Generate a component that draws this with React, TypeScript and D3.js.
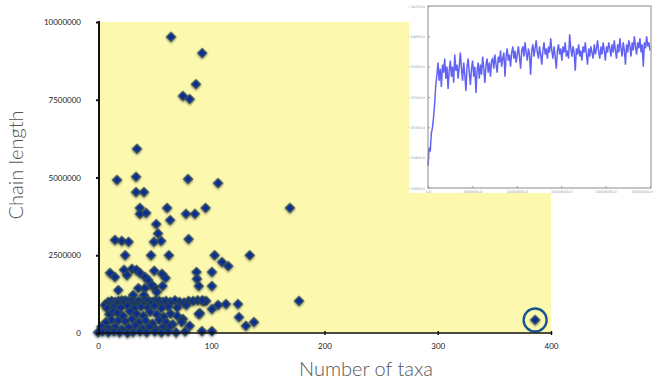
import React, { useEffect, useRef } from 'react';
import * as d3 from 'd3';

// number of taxa vs. chain length (chain length in millions)
const taxa = [
  64.5, 92, 86.5, 75, 81, 34.4, 16.8, 33.6, 79.5, 106, 33.6, 40.6, 37, 37, 42.5, 61, 63.7, 51.4, 53, 49.4,
  55.7, 15, 21, 27, 24, 46.8, 62.6, 80, 77.7, 85.6, 95, 103, 169.5, 134, 109.5, 115, 177.5, 386,
  10.6, 15, 23, 25.6, 30, 34, 37, 41.6, 44.4, 49.7, 56.5, 59.7, 17.9, 35.6, 41.3, 49.4, 57, 52, 47.4, 31, 40.6,
  87, 87.4, 89, 100.6, 100.6,
  106, 113, 123.6, 124.5, 130.6, 137.7, 100.6, 100.6, 91.8, 90, 93, 95.5, 89, 81, 75, 74,
  6, 9, 12, 15, 18, 21, 24, 27, 30, 33, 36, 39, 42, 45, 48, 51, 54, 57, 60, 64, 68, 72, 76, 80, 84, 88, 92,
  8, 14, 20, 26, 32, 38, 44, 50, 56, 62, 70, 78,
  10, 13, 17, 22, 28, 34, 40, 46, 52, 58, 64, 70,
  7, 12, 18, 24, 30, 36, 42, 48, 54, 60, 66,
  3, 9, 15, 21, 27, 33, 39, 45, 51, 57, 63,
  0, 4, 9, 14, 19, 26, 31, 37, 43, 50, 56, 62, 69, 77,
];
const chainLength = [
  9.52, 9.0, 8.0, 7.62, 7.52, 5.92, 4.92, 5.02, 4.95, 4.82, 4.53, 4.53, 4.02, 3.83, 3.86, 4.02, 3.63, 3.5, 3.2, 2.93,
  2.96, 2.99, 2.96, 2.93, 2.5, 2.5, 2.5, 3.02, 3.83, 3.83, 4.02, 2.5, 4.02, 2.5, 2.28, 2.15, 1.03, 0.42,
  1.93, 1.8, 2.03, 1.86, 2.06, 2.03, 1.93, 1.8, 1.7, 2.0, 1.9, 1.77, 1.38, 1.44, 1.44, 1.48, 1.51, 1.32, 1.54, 1.22, 1.22,
  1.96, 1.74, 1.51, 1.96, 1.51,
  0.9, 0.93, 0.93, 0.51, 0.23, 0.35, 0.77, 0.06, 0.06, 0.64, 1.03, 1.03, 0.61, 0.23, 0.45, 0.35,
  0.9, 1.0, 1.03, 1.0, 1.03, 1.05, 1.05, 1.03, 1.05, 1.0, 1.03, 1.0, 1.05, 1.03, 1.0, 1.05, 1.03, 1.0, 1.03, 1.0, 1.05, 1.0, 0.98, 1.03, 1.03, 1.05, 1.05,
  0.8, 0.85, 0.82, 0.88, 0.8, 0.85, 0.82, 0.88, 0.8, 0.85, 0.82, 0.9,
  0.6, 0.7, 0.65, 0.55, 0.7, 0.62, 0.55, 0.68, 0.6, 0.52, 0.62, 0.55,
  0.35, 0.42, 0.4, 0.38, 0.45, 0.35, 0.4, 0.3, 0.42, 0.35, 0.28,
  0.2, 0.15, 0.2, 0.12, 0.18, 0.25, 0.15, 0.2, 0.12, 0.18, 0.22,
  0.02, 0.05, 0.02, 0.05, 0.02, 0.0, 0.03, 0.05, 0.02, 0.05, 0.02, 0.05, 0.02, 0.05,
];
const highlighted = 37; // index of the circled point

const xTicks = [0, 100, 200, 300, 400];
const yTicks = [0, 2500000, 5000000, 7500000, 10000000];

// inset: MCMC trace (log likelihood per sample)
const trace = [
  -25490, -25400, -25420, -25330, -25300, -25250, -25180, -25090,
  -25040, -24980, -25070, -25010, -25100, -24990, -25030, -24960, -25060, -25000,
  -25110, -25020, -24970, -25050, -25000, -25080, -24940, -25020, -24990, -25060,
  -25000, -24930, -25010, -25070, -24980, -25040, -25120, -25000, -24960, -25030,
  -25090, -25010, -24970, -25050, -25000, -25130, -25020, -24980, -25060, -24990,
  -25040, -24950, -25010, -25080, -24990, -24960, -25030, -24980, -25050, -24970,
  -24960, -25010, -24940, -24990, -25030, -24950, -24980, -24920, -25000, -24960,
  -24930, -25050, -24950, -24910, -24970, -24940, -25000, -24930, -24900, -24960,
  -24920, -24980, -24940, -24900, -24950, -25010, -24920,
  -24900, -24950, -24880, -24930, -24970, -24910, -24940, -25040, -24920, -24890,
  -24950, -24910, -24870, -24930, -24960, -24900, -24940, -24990, -24920, -24880,
  -24940, -24910, -24960, -24900, -24930, -24860, -24920, -24960, -24900, -24950,
  -25010, -24920, -24890, -24940, -24910, -24970, -24900, -24930, -24880, -24950,
  -24920, -24960, -24840, -24910, -24950, -24900, -24930, -25020, -24910, -24940,
  -24890, -24950, -24920, -24970, -24900, -24930, -24880, -24940, -24990, -24910,
  -24950, -24900, -24930, -24960, -24890, -24940, -24910, -24870, -24930, -24960,
  -24900, -24940, -24880, -24920, -24970, -24900, -24930, -24880, -24910, -24950,
  -24890, -24930, -24870, -24920, -24960, -24890, -24930, -24860, -24910, -24950,
  -24880, -24920, -24990, -24890, -24930, -24870, -24900, -24950, -24880, -24920,
  -24850, -24900, -24940, -24880, -24910, -24860, -24930, -24890, -25000, -24880,
  -24910, -24850, -24900, -24880, -24920,
];
const traceXTicks = [0, 5000000, 10000000, 15000000, 20000000, 25000000];
const traceYTicks = [-25600, -25450, -25300, -25150, -25000, -24850, -24700];

export default function App() {
  const svgRef = useRef(null);

  useEffect(() => {
    const svg = d3.select(svgRef.current);
    svg.selectAll('*').remove();

    const x = d3.scaleLinear().domain([0, 400]).range([98, 551]);
    const y = d3.scaleLinear().domain([0, 10000000]).range([333, 22]);

    const defs = svg.append('defs');
    const f = defs.append('filter').attr('id', 'glow')
      .attr('x', '-50%').attr('y', '-50%').attr('width', '200%').attr('height', '200%');
    f.append('feGaussianBlur').attr('in', 'SourceAlpha').attr('stdDeviation', 1.5).attr('result', 'b');
    f.append('feOffset').attr('in', 'b').attr('dx', 0.5).attr('dy', 1).attr('result', 'o');
    f.append('feComponentTransfer').attr('in', 'o').attr('result', 's')
      .append('feFuncA').attr('type', 'linear').attr('slope', 0.4);
    const m = f.append('feMerge');
    m.append('feMergeNode').attr('in', 's');
    m.append('feMergeNode').attr('in', 'SourceGraphic');

    const soft = defs.append('filter').attr('id', 'soft');
    soft.append('feGaussianBlur').attr('stdDeviation', 0.45);

    // plot background
    svg.append('rect')
      .attr('x', 100).attr('y', 22)
      .attr('width', x(400) - 100).attr('height', y(0) - 22)
      .attr('fill', '#fcf8ae');

    // points
    const diamond = d3.symbol().type(d3.symbolSquare).size(36);
    svg.append('g')
      .selectAll('path')
      .data(taxa.map((t, i) => ({ t, c: chainLength[i] * 1000000 })))
      .join('path')
      .attr('d', diamond)
      .attr('transform', (d) => `translate(${x(d.t)},${y(d.c)}) rotate(45)`)
      .attr('fill', '#0b2c9a')
      .attr('stroke', '#26465a')
      .attr('stroke-width', 1.5)
      .attr('filter', 'url(#glow)');

    // circled outlier
    svg.append('circle')
      .attr('cx', x(taxa[highlighted]))
      .attr('cy', y(chainLength[highlighted] * 1000000))
      .attr('r', 11.5)
      .attr('fill', 'none')
      .attr('stroke', '#15578f')
      .attr('stroke-width', 2.4);

    // y axis
    const yAxis = svg.append('g')
      .attr('transform', 'translate(99,0)')
      .call(d3.axisLeft(y).tickValues(yTicks).tickSize(3).tickPadding(15).tickFormat(d3.format('d')));
    yAxis.select('.domain').remove();
    yAxis.selectAll('line').attr('stroke', '#111').attr('stroke-width', 2);
    yAxis.selectAll('text').attr('fill', '#222').style('font-size', '8px').style('font-family', 'Lato, sans-serif');
    svg.append('line')
      .attr('x1', 99).attr('x2', 99).attr('y1', 21).attr('y2', 334)
      .attr('stroke', '#111').attr('stroke-width', 2);

    // x axis
    const xAxis = svg.append('g')
      .attr('transform', 'translate(0,333)')
      .call(d3.axisBottom(x).tickValues(xTicks).tickSize(2).tickPadding(8));
    xAxis.select('.domain').remove();
    xAxis.selectAll('line').attr('y1', -2).attr('stroke', '#111').attr('stroke-width', 1.5);
    xAxis.selectAll('text').attr('fill', '#222').style('font-size', '8px').style('font-family', 'Lato, sans-serif');
    svg.append('line')
      .attr('x1', 98).attr('x2', x(400) + 1).attr('y1', 333).attr('y2', 333)
      .attr('stroke', '#111').attr('stroke-width', 1.5);

    // axis titles
    svg.append('text')
      .attr('transform', 'translate(23,165) rotate(-90)')
      .attr('text-anchor', 'middle')
      .attr('fill', '#555')
      .style('font-family', 'Lato, sans-serif')
      .style('font-weight', 300)
      .style('font-size', '20px')
      .text('Chain length');
    svg.append('text')
      .attr('x', 366).attr('y', 376)
      .attr('text-anchor', 'middle')
      .attr('fill', '#555')
      .style('font-family', 'Lato, sans-serif')
      .style('font-weight', 300)
      .style('font-size', '20px')
      .text('Number of taxa');

    // inset trace plot
    const inset = svg.append('g');
    inset.append('rect')
      .attr('x', 409).attr('y', 0).attr('width', 247).attr('height', 193)
      .attr('fill', '#fff');
    const tx = d3.scaleLinear().domain([0, 25000000]).range([428, 650]);
    const ty = d3.scaleLinear().domain([-25600, -24700]).range([188, 6]);
    const step = 25000000 / (trace.length - 1);

    inset.append('path')
      .datum(trace)
      .attr('fill', 'none')
      .attr('stroke', '#2f2ff0')
      .attr('stroke-width', 1.5)
      .attr('stroke-opacity', 0.75)
      .attr('filter', 'url(#soft)')
      .attr('d', d3.line().x((d, i) => tx(i * step)).y((d) => ty(d)));

    inset.append('rect')
      .attr('x', 428).attr('y', 6).attr('width', 223).attr('height', 182)
      .attr('fill', 'none').attr('stroke', '#8a8a8a').attr('stroke-width', 1);

    const ixAxis = inset.append('g')
      .attr('transform', 'translate(0,188)')
      .call(d3.axisBottom(tx).tickValues(traceXTicks).tickSize(2).tickPadding(1).tickFormat(d3.format('.1f')));
    ixAxis.select('.domain').remove();
    ixAxis.selectAll('line').attr('y1', -2).attr('y2', 0).attr('stroke', '#999');
    ixAxis.selectAll('text').attr('fill', '#999').style('font-size', '3.5px').style('font-family', 'DejaVu Sans, sans-serif');
    ixAxis.selectAll('text').filter((d) => d === 25000000).attr('text-anchor', 'end').attr('dx', 2);

    const iyAxis = inset.append('g')
      .attr('transform', 'translate(428,0)')
      .call(d3.axisLeft(ty).tickValues(traceYTicks).tickSize(2).tickPadding(1).tickFormat(d3.format('.1f')));
    iyAxis.select('.domain').remove();
    iyAxis.selectAll('line').attr('x1', 2).attr('x2', 0).attr('stroke', '#999');
    iyAxis.selectAll('text').attr('fill', '#999').style('font-size', '3.5px').style('font-family', 'DejaVu Sans, sans-serif');
  }, []);

  return (
    <svg
      ref={svgRef}
      width={656}
      height={381}
      style={{ position: 'absolute', left: 0, top: 0, background: '#fff' }}
    />
  );
}
